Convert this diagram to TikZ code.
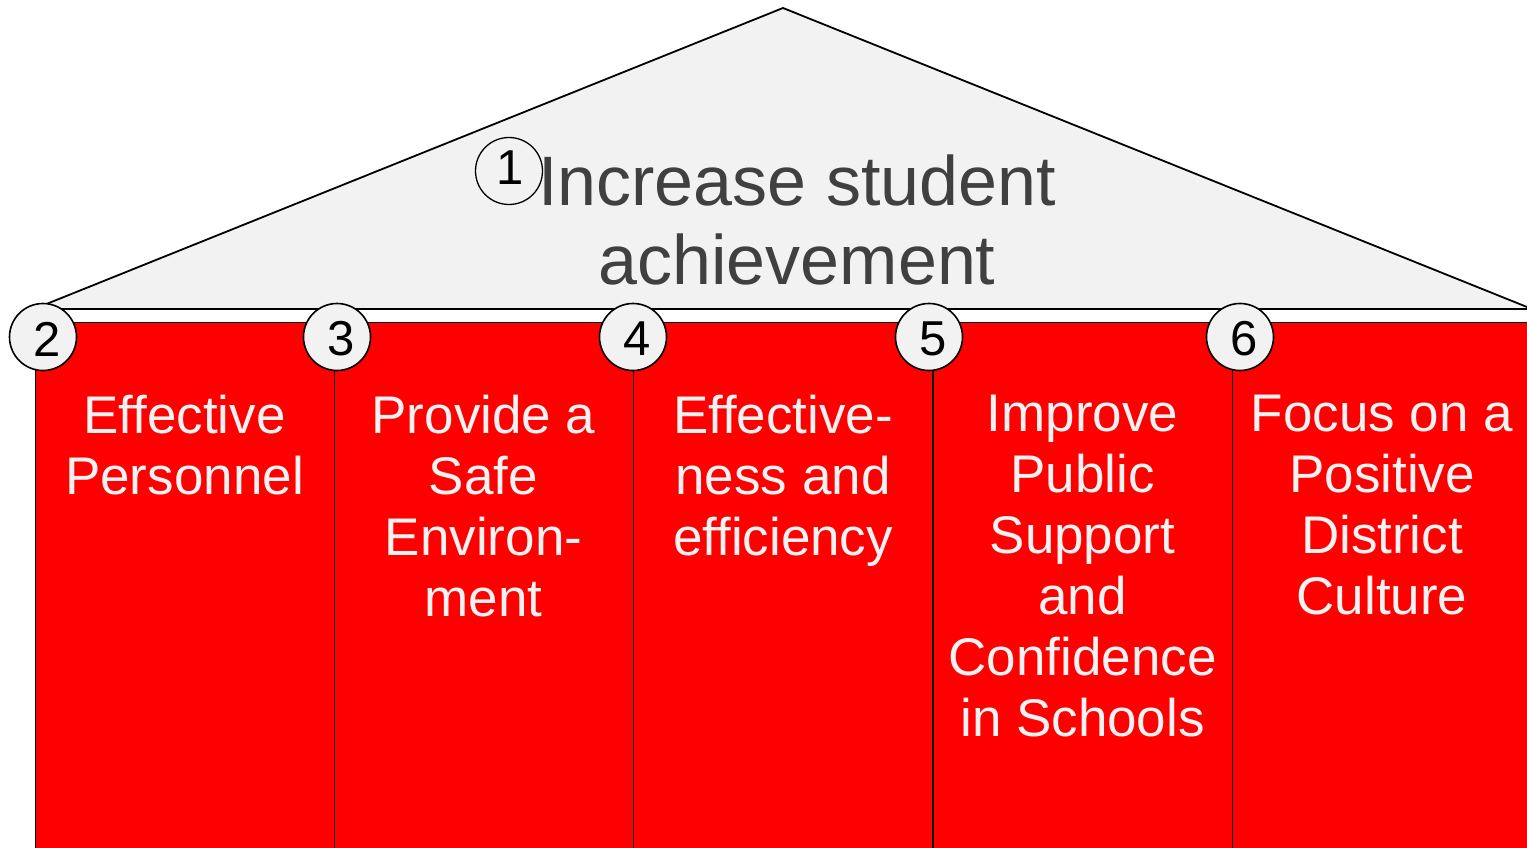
\documentclass[tikz,border=0pt]{standalone}
\usepackage{fontspec}
\setmainfont{Liberation Sans}
\definecolor{roofgray}{HTML}{F2F2F2}
\definecolor{goalgray}{HTML}{404040}
\definecolor{pillarred}{HTML}{FF0000}
\begin{document}
\begin{tikzpicture}[x=1pt,y=-1pt,
    num/.style={circle,draw,line width=1.6pt,fill=roofgray,minimum size=67pt,inner sep=0pt},
    numtext/.style={font=\fontsize{49}{49}\selectfont,inner sep=0pt},
    pillartext/.style={anchor=north,align=center,inner sep=0pt,text=white!95!black,font=\fontsize{53}{61}\selectfont}]
    \useasboundingbox (0,0) rectangle (1527,848);
    \clip (0,0) rectangle (1527,848);
    \path
    (34,309) coordinate (L)
    (783,8) coordinate (T)
    (1532,309) coordinate (R)
    ;
    % roof
    \filldraw[fill=roofgray,line width=1.8pt] (L)--(T)--(R)--cycle;
    % pillars
    \foreach \x in {35,334,633,933,1232}
    \filldraw[fill=pillarred,line width=1pt] (\x,322) rectangle +(299,540);
    \node[anchor=north,align=center,inner sep=0pt,text=goalgray,font=\fontsize{70}{79}\selectfont] (goal) at (797,155) {Increase student\\achievement};
    \node[num,line width=1.3pt,label={[numtext,xshift=1pt,yshift=3pt]center:1}] (c1) at (509,171) {};
    \foreach \n/\x/\t in {2/184.5/{Effective\\Personnel},3/483.5/{Provide a\\Safe\\Environ-\\ment},4/783/{Effective-\\ness and\\efficiency},5/1082.5/{Improve\\Public\\Support\\and\\Confidence\\in Schools},6/1382/{Focus on a\\Positive\\District\\Culture}}
    \node[pillartext] (p\n) at (\x,394.5) {\t};
    \foreach \n/\x in {2/43,3/337,4/633,5/929,6/1240}
    \node[num,label={[numtext,xshift=4pt,yshift=-2pt]center:\n}] (c\n) at (\x,337) {};
\end{tikzpicture}
\end{document}
